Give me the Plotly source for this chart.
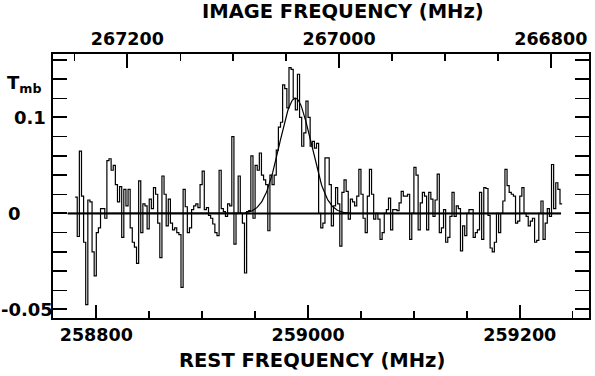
import numpy as np
import plotly.graph_objects as go

# spectrum: 2 MHz channels starting at 258780 MHz (rest frequency)
rest_start = 258780.0
chan_width = 2.0
t_mb = [
    0.017, -0.024, 0.065, 0.018, -0.03, -0.095, 0.014, 0.012, -0.04, -0.065,
    -0.02, -0.015, 0.005, 0.005, -0.005, 0.055, 0.057, 0.045, 0.05, 0.03,
    0.012, 0.028, -0.025, 0.025, 0.008, 0.025, -0.015, -0.03, -0.035, -0.052,
    0.034, -0.02, 0.01, 0.008, -0.016, 0.015, 0.005,
    0.027, 0.02, -0.01, -0.046, 0.039, 0.02, -0.013, 0.015, -0.01, -0.017,
    -0.015, -0.02, -0.022, -0.077, 0.025, 0.007, -0.02, -0.015, 0.004, 0.008,
    0.01, 0.006, 0.03, 0.044, 0.004, 0.006, -0.002, -0.005, -0.011, -0.02,
    -0.023, 0.045, 0.005, 0.002, -0.003, 0.01, 0.008, 0.08, -0.032, 0.0,
    0.039, 0.0, -0.01, -0.062, 0.002, 0.003, 0.06, -0.005, 0.05, 0.045,
    0.063, 0.04, 0.035, 0.03, -0.018, 0.04, 0.03, 0.04, 0.066, 0.09,
    0.095, 0.134, 0.13, 0.11, 0.152, 0.15, 0.12, 0.108, 0.145, 0.1,
    0.07, 0.084, 0.117, 0.1, 0.07, 0.075, 0.068, 0.073, 0.0, -0.015,
    -0.01,
    0.058, 0.058, 0.03, -0.013, 0.008, 0.027, 0.01, -0.034, 0.022, 0.035,
    0.023, -0.006, 0.015, 0.012, 0.008, 0.018, 0.046, 0.02, -0.005, -0.02,
    0.018, 0.046, 0.02, -0.006, 0.0, -0.006, -0.027, -0.02, 0.0, 0.004,
    0.016, -0.017, 0.004, 0.004, 0.003, 0.011, 0.023, 0.018, 0.018,
    0.02, -0.027, 0.0, 0.048, 0.04, -0.017, 0.011, 0.022, 0.018, -0.017,
    0.022, 0.015, -0.003, 0.014, 0.041, -0.02, -0.015, 0.004, -0.03, -0.025,
    -0.003, 0.022, -0.003, 0.008, 0.005, -0.039, -0.013, -0.023, 0.0, 0.004,
    0.004, -0.025, -0.02, -0.017, 0.022, -0.027, 0.027, 0.026, -0.002, -0.036,
    -0.04, -0.03, 0.0, -0.02, 0.0, 0.013, 0.046, 0.029, 0.022, 0.02,
    0.018, -0.01, -0.008, 0.018, 0.027, 0.0, -0.003, -0.013, -0.008, -0.005,
    -0.03, -0.028, 0.0, 0.013, -0.027, -0.01, 0.005, -0.003, 0.051, 0.005,
    0.032, 0.025, 0.01,
]

# gaussian fit
fit_amp = 0.12
fit_center = 258988.0
fit_fwhm = 35.0
fit_start = 258773.0
fit_end = 259239.0

# image frequency = lo_sum - rest frequency
lo_sum = 526029.3
x_range = [258759.1, 259265.4]
y_range = [-0.1089, 0.1661]

FONT = "DejaVu Sans"

edges = rest_start + chan_width * np.arange(len(t_mb) + 1)
steps = t_mb + [t_mb[-1]]

fx = np.linspace(fit_start, fit_end, 600)
sigma = fit_fwhm / 2.3548
fy = fit_amp * np.exp(-0.5 * ((fx - fit_center) / sigma) ** 2)

fig = go.Figure()
fig.add_trace(go.Scatter(x=[fit_start, fit_end], y=[0, 0], mode="lines",
                         line=dict(color="black", width=2), hoverinfo="skip"))
fig.add_trace(go.Scatter(x=fx, y=fy, mode="lines",
                         line=dict(color="black", width=1.2)))
fig.add_trace(go.Scatter(x=edges, y=steps, mode="lines", line_shape="hv",
                         line=dict(color="black", width=1.2)))
fig.add_trace(go.Scatter(x=[lo_sum - x_range[0]], y=[0], xaxis="x2",
                         mode="markers", marker=dict(opacity=0), hoverinfo="skip"))

tick_font = dict(family=FONT, size=17.5, color="black", weight="bold")
fig.update_layout(
    width=595, height=376,
    margin=dict(l=53, r=4, t=54, b=58),
    paper_bgcolor="white", plot_bgcolor="white",
    showlegend=False,
    xaxis=dict(
        range=x_range, showgrid=False, zeroline=False,
        showline=True, linewidth=2, linecolor="black", mirror=True,
        ticks="inside", ticklen=13, tickwidth=2, tickcolor="black",
        tick0=258800, dtick=200, tickformat="d", tickfont=tick_font,
        minor=dict(ticks="inside", ticklen=7, tickwidth=1.5, dtick=50, tick0=258800,
                   tickcolor="black", showgrid=False),
    ),
    xaxis2=dict(
        overlaying="x", side="top", range=[lo_sum - x_range[0], lo_sum - x_range[1]],
        showgrid=False, zeroline=False, showline=True, linewidth=2, linecolor="black",
        ticks="inside", ticklen=14, tickwidth=2, tickcolor="black",
        tick0=266800, dtick=200, tickformat="d", tickfont=tick_font,
        minor=dict(ticks="inside", ticklen=7, tickwidth=1.5, dtick=50, tick0=266800,
                   tickcolor="black", showgrid=False),
    ),
    yaxis=dict(
        range=y_range, showgrid=False, zeroline=False,
        showline=True, linewidth=2, linecolor="black", mirror="allticks",
        ticks="inside", ticklen=14, tickwidth=2, tickcolor="black",
        tickvals=[-0.1, 0, 0.1], showticklabels=False,
        minor=dict(ticks="inside", ticklen=7, tickwidth=1.5, dtick=0.02, tick0=0,
                   tickcolor="black", showgrid=False),
    ),
)

ann_font = dict(family=FONT, size=18, color="black", weight="bold")
ylabels = [(0.1, "0.1", -41), (0.0, "0", -47), (-0.1, "-0.05", -54)]
for val, txt, shift in ylabels:
    fig.add_annotation(x=0, y=val, xref="paper", yref="y", text=txt, showarrow=False,
                       xanchor="left", yanchor="middle", xshift=shift, font=ann_font)
fig.add_annotation(x=0, y=1, xref="paper", yref="paper", text="T<sub>mb</sub>",
                   showarrow=False, xanchor="left", yanchor="middle",
                   xshift=-48, yshift=-30, font=ann_font)
title_font = dict(family=FONT, size=19.5, color="black", weight="bold")
fig.add_annotation(x=0.5418, y=1, xref="paper", yref="paper", text="IMAGE FREQUENCY (MHz)",
                   showarrow=False, xanchor="center", yanchor="middle", yshift=43,
                   font=title_font)
fig.add_annotation(x=0.4823, y=0, xref="paper", yref="paper", text="REST FREQUENCY (MHz)",
                   showarrow=False, xanchor="center", yanchor="middle", yshift=-42,
                   font=title_font)

# page body has a default margin; drop it so the figure sits at the window corner
fig.write_html("out.html", config={"displayModeBar": False, "staticPlot": True},
               post_script="document.body.style.margin='0px';")
